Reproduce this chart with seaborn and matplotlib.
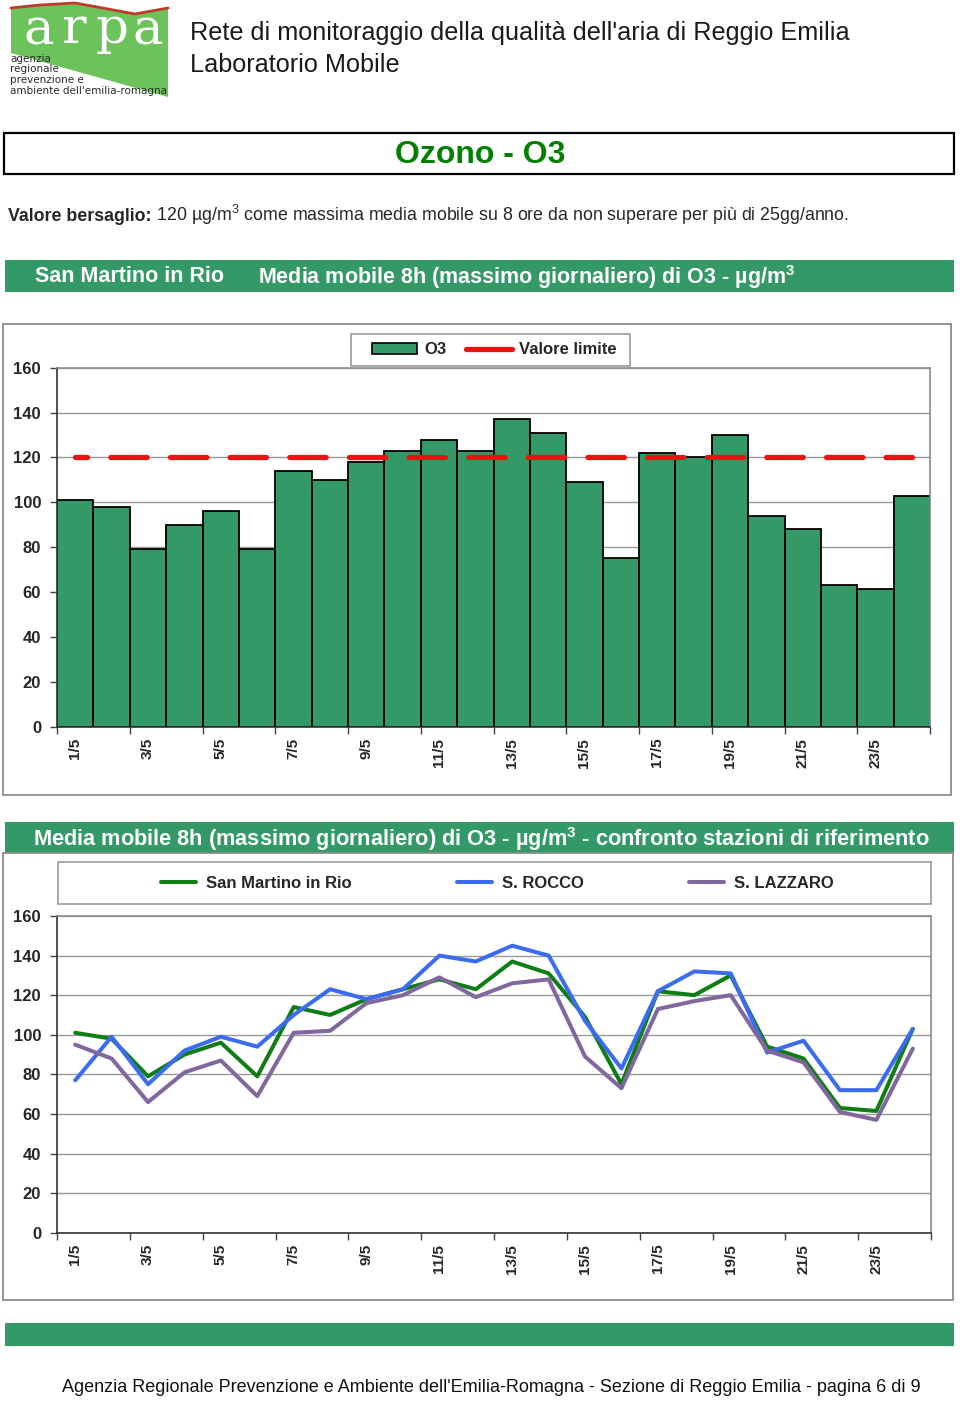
"""Ozono - O3 page: laboratorio mobile San Martino in Rio."""

import numpy as np
import pandas as pd
import matplotlib.pyplot as plt
import seaborn as sns
from matplotlib.patches import Rectangle, Polygon, Patch
from matplotlib.lines import Line2D
from matplotlib.offsetbox import TextArea, HPacker, AnnotationBbox

sns.set_theme(style="white")
plt.rcParams['font.family'] = ['Liberation Sans', 'DejaVu Sans']
plt.rcParams['mathtext.fontset'] = 'custom'
plt.rcParams['mathtext.rm'] = 'Liberation Sans'
plt.rcParams['mathtext.bf'] = 'Liberation Sans:bold'

# ── data ─────────────────────────────────────────────
days = ['1/5', '2/5', '3/5', '4/5', '5/5', '6/5', '7/5', '8/5', '9/5', '10/5',
        '11/5', '12/5', '13/5', '14/5', '15/5', '16/5', '17/5', '18/5', '19/5',
        '20/5', '21/5', '22/5', '23/5', '24/5']
san_martino = [101, 98, 79, 90, 96, 79, 114, 110, 118, 123, 128, 123,
               137, 131, 109, 75, 122, 120, 130, 94, 88, 63, 61.5, 103]
s_rocco = [77, 99, 75, 92, 99, 94, 110, 123, 118, 123, 140, 137,
           145, 140, 107, 83, 122, 132, 131, 91, 97, 72, 72, 103]
s_lazzaro = [95, 88, 66, 81, 87, 69, 101, 102, 116, 120, 129, 119,
             126, 128, 89, 73, 113, 117, 120, 92, 86, 61, 57, 93]
limit_value = 120
stations = ['San Martino in Rio', 'S. ROCCO', 'S. LAZZARO']

bar_green = '#339966'
band_green = '#339966'
line_colors = ['#0e7d14', '#3b6cf0', '#80689e']

W, H = 960, 1401
fig = plt.figure(figsize=(9.6, 14.01), dpi=100)
pg = fig.add_axes([0, 0, 1, 1], zorder=0)
pg.set_xlim(0, W)
pg.set_ylim(H, 0)
pg.axis('off')


def box(l, t, r, b):
    return [l / W, 1 - b / H, (r - l) / W, (b - t) / H]


def rect(l, t, r, b, **kw):
    pg.add_patch(Rectangle((l, t), r - l, b - t, **kw))


# ── header / logo ────────────────────────────────────
logo = [(11, 8), (40, 5), (75, 3), (108, 9), (135, 14), (168, 8), (168, 97), (11, 53)]
pg.add_patch(Polygon(logo, closed=True, fc='#6cc35c', ec='none'))
pg.plot([p[0] for p in logo[:6]], [p[1] for p in logo[:6]], color='#c0392b', lw=2)
for ch, xc in zip('arpa', [39, 74, 111, 148]):
    pg.text(xc, 43, r'$\mathrm{%s}$' % ch, color='white', fontsize=37,
            math_fontfamily='dejavuserif', ha='center', va='baseline')
for txt, yc in zip(['agenzia', 'regionale', 'prevenzione e', "ambiente dell'emilia-romagna"],
                   [59, 69, 80, 91]):
    pg.text(10, yc, txt, fontsize=7.5, family='DejaVu Sans', color='#2a2a2a', va='center')

pg.text(190, 33, "Rete di monitoraggio della qualità dell'aria di Reggio Emilia",
        fontsize=18.2, color='#1a1a1a', va='center')
pg.text(190, 65, "Laboratorio Mobile", fontsize=18.2, color='#1a1a1a', va='center')

rect(4, 133, 954, 174, fc='none', ec='black', lw=1.6)
pg.text(480, 155, "Ozono - O3", fontsize=23, fontweight='bold', color='#008000',
        ha='center', va='center')

line_parts = HPacker(children=[
    TextArea("Valore bersaglio:", textprops=dict(fontsize=12.8, fontweight='bold')),
    TextArea(" 120 µg/m$^3$ come massima media mobile su 8 ore da non superare "
             "per più di 25gg/anno.", textprops=dict(fontsize=12.8)),
], align='baseline', pad=0, sep=0)
pg.add_artist(AnnotationBbox(line_parts, (8, 215), xycoords='data',
                             box_alignment=(0, 0.5), frameon=False, pad=0))

rect(5, 260, 954, 292, fc=band_green, ec='none')
pg.text(35, 277, "San Martino in Rio", fontsize=15.5, fontweight='bold', color='white', va='center')
pg.text(258, 277, r"Media mobile 8h (massimo giornaliero) di O3 - µg/m$^\mathbf{3}$",
        fontsize=15.5, fontweight='bold', color='white', va='center')

# ── chart 1: bars ────────────────────────────────────
rect(3, 324, 951, 795, fc='white', ec='#8c8c8c', lw=1.3)
rect(351, 334, 630, 366, fc='white', ec='#999999', lw=1.2)

n = len(days)
ax1 = fig.add_axes(box(57, 367.7, 930, 726.7), zorder=2)
df_bar = pd.DataFrame({'day': days, 'o3': san_martino})
sns.barplot(data=df_bar, x='day', y='o3', color=bar_green, saturation=1,
            edgecolor='black', linewidth=1.3, width=1.0, ax=ax1)
ax1.plot(np.arange(n), np.full(n, limit_value), color='#ee1111', lw=3.8,
         linestyle=(4.6, (6.9, 4.4)), dash_capstyle='round', zorder=4)

rect(5, 822, 954, 853, fc=band_green, ec='none')
pg.text(33, 839, r"Media mobile 8h (massimo giornaliero) di O3 - µg/m$^\mathbf{3}$ - "
        "confronto stazioni di riferimento", fontsize=15.65, fontweight='bold',
        color='white', va='center')

# ── chart 2: lines ───────────────────────────────────
rect(3, 853, 953, 1300, fc='white', ec='#8c8c8c', lw=1.3)
rect(58, 862, 931, 904, fc='white', ec='#999999', lw=1.2)

ax2 = fig.add_axes(box(57, 916, 931, 1232.7), zorder=2)
df_lines = pd.DataFrame({
    'pos': np.tile(np.arange(n), 3),
    'value': san_martino + s_rocco + s_lazzaro,
    'station': np.repeat(stations, n),
})
sns.lineplot(data=df_lines, x='pos', y='value', hue='station', hue_order=stations,
             palette=line_colors, linewidth=2.9, legend=False, sort=False, ax=ax2)

for ax in (ax1, ax2):
    ax.set_xlim(-0.5, n - 0.5)
    ax.set_ylim(0, 160)
    ax.set_yticks(np.arange(0, 161, 20))
    ax.set_xticks(np.arange(-0.5, n, 2))
    ax.set_xticklabels([])
    ax.set_xticks(np.arange(0, n, 2), minor=True)
    ax.set_xticklabels(days[::2], minor=True, rotation=90, fontweight='bold', fontsize=11)
    ax.tick_params(axis='x', which='major', length=5, width=1, color='#444444',
                   direction='out', bottom=True)
    ax.tick_params(axis='x', which='minor', length=0, pad=8, bottom=True)
    ax.tick_params(axis='y', length=5, width=1, color='#444444', direction='out',
                   left=True, pad=6.5, labelsize=12)
    for lab in ax.get_yticklabels():
        lab.set_fontweight('bold')
    ax.yaxis.grid(True, color='#999999', lw=1)
    ax.set_axisbelow(True)
    ax.set_xlabel('')
    ax.set_ylabel('')
    for side in ('top', 'right'):
        ax.spines[side].set_color('#8c8c8c')
        ax.spines[side].set_linewidth(1.2)
    for side in ('left', 'bottom'):
        ax.spines[side].set_color('#333333')
        ax.spines[side].set_linewidth(1.2)

# legends
h1 = [Patch(fc=bar_green, ec='black', lw=1.2),
      Line2D([], [], color='#ee1111', lw=3.8, solid_capstyle='round')]
fig.legend(h1, ['O3', 'Valore limite'], ncol=2, loc='center',
           bbox_to_anchor=(494 / W, 1 - 350 / H), frameon=False,
           prop={'weight': 'bold', 'size': 12}, handlelength=2.75,
           handleheight=0.65, handletextpad=0.4, columnspacing=1.2)

h2 = [Line2D([], [], color=c, lw=2.9) for c in line_colors]
fig.legend(h2, stations, ncol=3, loc='center',
           bbox_to_anchor=(497.5 / W, 1 - 883 / H), frameon=False,
           prop={'weight': 'bold', 'size': 12}, handlelength=2.1,
           handletextpad=0.6, columnspacing=6.3)

# ── footer ───────────────────────────────────────────
rect(5, 1323, 954, 1346, fc=band_green, ec='none')
pg.text(491, 1388, "Agenzia Regionale Prevenzione e Ambiente dell'Emilia-Romagna - "
        "Sezione di Reggio Emilia - pagina 6 di 9", fontsize=13,
        ha='center', va='center', color='#111111')

fig.savefig('out.png', dpi=100)
print('Saved out.png')
